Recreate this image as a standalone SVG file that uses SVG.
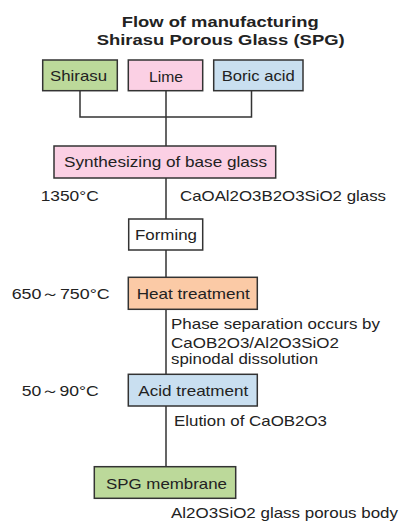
<svg xmlns="http://www.w3.org/2000/svg" width="401" height="521" viewBox="0 0 401 521">
<style>
.box{stroke:#333;stroke-width:1.5}
.t{font-family:"Liberation Sans",Arial,sans-serif;font-size:14.5px;fill:#222}
.h{font-family:"Liberation Sans",Arial,sans-serif;font-size:15px;font-weight:bold;fill:#222}
.c{fill:none;stroke:#333;stroke-width:1.5}
</style>
<rect width="401" height="521" fill="#fff"/>
<text class="h" x="121.7" y="26.5" textLength="197" lengthAdjust="spacingAndGlyphs">Flow of manufacturing</text>
<text class="h" x="96.7" y="45" textLength="248" lengthAdjust="spacingAndGlyphs">Shirasu Porous Glass (SPG)</text>
<g id="connectors">
<path class="c" d="M80,91V117H251.5V91M166,91V146M166,178V219M166,250V277M166,309V374M166,406V467"/>
</g>
<g id="shirasu">
<rect class="box" x="42.7" y="60" width="74.6" height="30.7" fill="#bcd99a"/>
<text class="t" x="50" y="80.5" textLength="57" lengthAdjust="spacingAndGlyphs">Shirasu</text>
</g>
<g id="lime">
<rect class="box" x="128.3" y="60" width="74.4" height="30.7" fill="#fbd0e4"/>
<text class="t" x="149" y="82" textLength="34" lengthAdjust="spacingAndGlyphs">Lime</text>
</g>
<g id="boric">
<rect class="box" x="213.7" y="60" width="89.3" height="30.7" fill="#c9dff0"/>
<text class="t" x="221.7" y="80.5" textLength="73" lengthAdjust="spacingAndGlyphs">Boric acid</text>
</g>
<g id="synth">
<rect class="box" x="54" y="146" width="221.7" height="32" fill="#fbd0e4"/>
<text class="t" x="64" y="167" textLength="203" lengthAdjust="spacingAndGlyphs">Synthesizing of base glass</text>
<text class="t" x="40.7" y="201" textLength="58" lengthAdjust="spacingAndGlyphs">1350°C</text>
<text class="t" x="180" y="201" textLength="206" lengthAdjust="spacingAndGlyphs">CaOAl2O3B2O3SiO2 glass</text>
</g>
<g id="forming">
<rect class="box" x="128.7" y="219" width="74" height="31" fill="#fff"/>
<text class="t" x="135" y="240" textLength="62" lengthAdjust="spacingAndGlyphs">Forming</text>
</g>
<g id="heat">
<rect class="box" x="128.3" y="277.3" width="129" height="32" fill="#fbcaa6"/>
<text class="t" x="136.7" y="298.5" textLength="113" lengthAdjust="spacingAndGlyphs">Heat treatment</text>
<text class="t" x="11.7" y="298.5" textLength="98" lengthAdjust="spacingAndGlyphs">650～750°C</text>
<text class="t" x="171" y="328.5" textLength="209" lengthAdjust="spacingAndGlyphs">Phase separation occurs by</text>
<text class="t" x="171" y="347.5" textLength="168" lengthAdjust="spacingAndGlyphs">CaOB2O3/Al2O3SiO2</text>
<text class="t" x="171" y="364" textLength="147" lengthAdjust="spacingAndGlyphs">spinodal dissolution</text>
</g>
<g id="acid">
<rect class="box" x="128.3" y="374.3" width="129" height="31.7" fill="#c9dff0"/>
<text class="t" x="138.3" y="395.5" textLength="110" lengthAdjust="spacingAndGlyphs">Acid treatment</text>
<text class="t" x="21.7" y="395.5" textLength="77" lengthAdjust="spacingAndGlyphs">50～90°C</text>
<text class="t" x="174" y="425.5" textLength="153" lengthAdjust="spacingAndGlyphs">Elution of CaOB2O3</text>
</g>
<g id="spg">
<rect class="box" x="94.3" y="466.7" width="141.4" height="31.6" fill="#bcd99a"/>
<text class="t" x="106" y="488.5" textLength="121" lengthAdjust="spacingAndGlyphs">SPG membrane</text>
<text class="t" x="171" y="518" textLength="227" lengthAdjust="spacingAndGlyphs">Al2O3SiO2 glass porous body</text>
</g>
</svg>
